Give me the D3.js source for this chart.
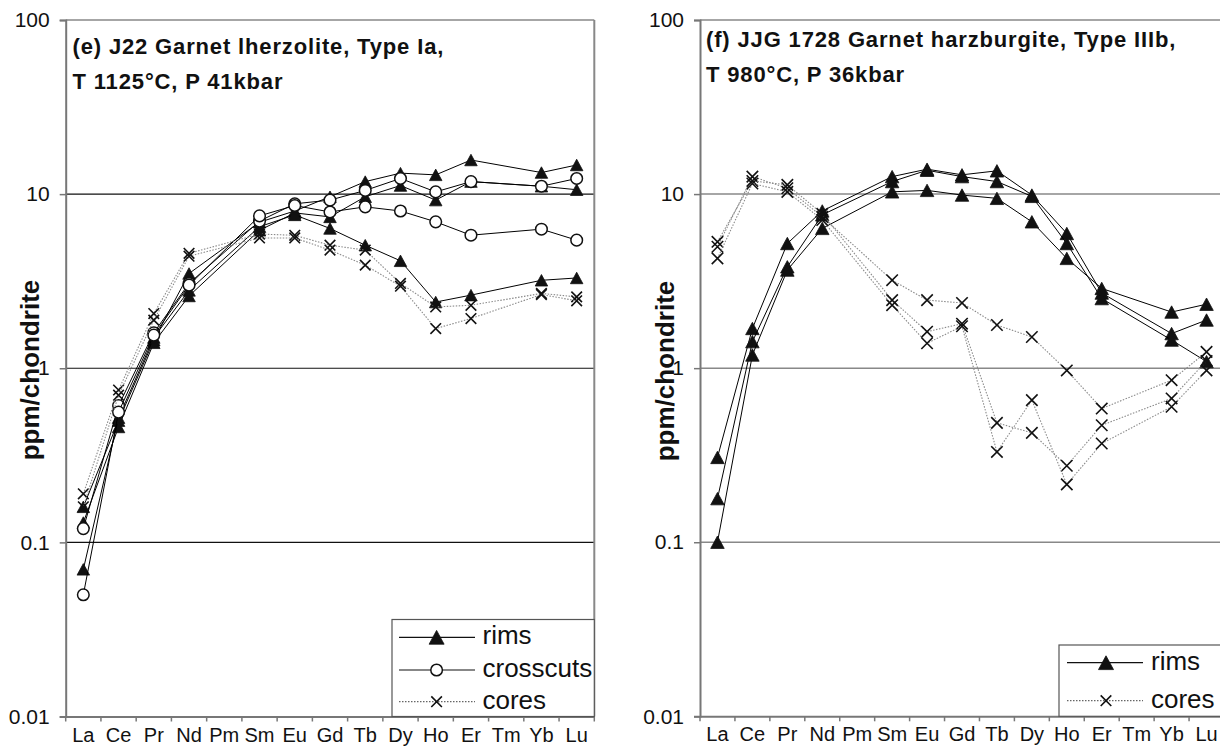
<!DOCTYPE html>
<html>
<head>
<meta charset="utf-8">
<script src="https://cdn.jsdelivr.net/npm/d3@7"></script>
<style>
  html, body { margin: 0; padding: 0; background: #fff; }
  svg { display: block; font-family: "Liberation Sans", Arial, sans-serif; }
</style>
</head>
<body>
<svg id="chart" width="1220" height="747"></svg>
<script>
// ---------- data ----------
const categories = ["La","Ce","Pr","Nd","Pm","Sm","Eu","Gd","Tb","Dy","Ho","Er","Tm","Yb","Lu"];
const yTickValues = [0.01, 0.1, 1, 10, 100];
const yTickLabels = ["0.01", "0.1", "1", "10", "100"];
const yTitle = "ppm/chondrite";

// panel (e) J22
const eTitle = ["(e) J22 Garnet lherzolite, Type Ia,", "T 1125°C, P 41kbar"];
const eRims = [
  [0.16, 0.50, 1.45, 3.5, null, 6.9, 8.0, 9.66, 11.8, 13.2, 12.9, 15.7, null, 13.3, 14.7],
  [0.13, 0.46, 1.40, 2.6, null, 6.2, 7.8, 7.4, 9.66, 11.2, 9.24, 11.8, null, 11.1, 10.6],
  [0.07, 0.52, 1.50, 2.8, null, 6.5, 7.6, 6.35, 5.09, 4.14, 2.40, 2.63, null, 3.2, 3.3]
];
const eCrosscuts = [
  [0.12, 0.61, 1.60, 3.07, null, 7.0, 8.8, 9.24, 10.5, 12.3, 10.3, 11.8, null, 11.1, 12.3],
  [0.05, 0.56, 1.55, 3.0, null, 7.5, 8.6, 7.9, 8.45, 8.0, 6.93, 5.81, null, 6.29, 5.44]
];
const eCores = [
  [0.19, 0.75, 2.06, 4.57, null, 5.9, 5.8, 5.09, 4.77, 3.07, 2.25, 2.30, null, 2.69, 2.57],
  [0.16, 0.70, 1.89, 4.4, null, 5.6, 5.6, 4.77, 3.91, 2.96, 1.69, 1.93, null, 2.65, 2.44]
];

// panel (f) JJG 1728
const fTitle = ["(f) JJG 1728 Garnet harzburgite, Type IIIb,", "T 980°C, P 36kbar"];
const fRims = [
  [0.307, 1.69, 5.2, 8.0, null, 12.6, 13.9, 12.9, 13.6, 9.87, 5.94, 2.7, null, 1.58, 1.89],
  [0.178, 1.42, 3.82, 7.6, null, 11.8, 13.7, 12.6, 11.8, 9.7, 5.2, 2.51, null, 1.45, 1.09],
  [0.10, 1.19, 3.66, 6.35, null, 10.3, 10.5, 9.87, 9.45, 6.93, 4.27, 2.87, null, 2.1, 2.33]
];
const fCores = [
  [4.98, 12.6, 10.8, 7.4, null, 3.2, 2.46, 2.37, 1.77, 1.51, 0.97, 0.586, null, 0.853, 1.24],
  [5.32, 11.9, 11.3, 7.7, null, 2.46, 1.62, 1.80, 0.485, 0.425, 0.275, 0.47, null, 0.67, 1.10],
  [4.27, 11.5, 10.3, 7.1, null, 2.30, 1.39, 1.74, 0.33, 0.655, 0.215, 0.369, null, 0.60, 0.97]
];

const legendNames = { rims: "rims", crosscuts: "crosscuts", cores: "cores" };

// ---------- drawing ----------
const FONT = '"Liberation Sans", Arial, sans-serif';
const svg = d3.select("#chart");

const styles = {
  rims: { stroke: "#000", width: 1, dash: null },
  crosscuts: { stroke: "#000", width: 1, dash: null },
  cores: { stroke: "#8a8a8a", width: 1.1, dash: "1.5,1.5" }
};

function drawMarker(g, kind, x, y, s) {
  s = s || 1;
  if (kind === "rims") {
    const w = 12.5 * s, h = 11.5 * s;
    g.append("path")
      .attr("d", `M${x},${y - h / 2}L${x + w / 2},${y + h / 2}L${x - w / 2},${y + h / 2}Z`)
      .attr("fill", "#111").attr("stroke", "#111").attr("stroke-width", 0.8);
  } else if (kind === "crosscuts") {
    g.append("circle").attr("cx", x).attr("cy", y).attr("r", 5.8 * s)
      .attr("fill", "#fff").attr("stroke", "#111").attr("stroke-width", 1.5);
  } else {
    const r = 5.3 * s;
    g.append("path")
      .attr("d", `M${x - r},${y - r}L${x + r},${y + r}M${x - r},${y + r}L${x + r},${y - r}`)
      .attr("stroke", "#111").attr("stroke-width", 1.6).attr("fill", "none");
  }
}

function drawPanel(o) {
  const x = d3.scaleBand().domain(categories).range([o.x0, o.x1]).padding(0);
  const y = d3.scaleLog().domain([0.01, 100]).range([o.yBottom, o.yTop]);
  const g = svg.append("g");

  // gridlines
  g.selectAll(".grid").data([0.1, 1, 10]).enter().append("line")
    .attr("x1", o.x0).attr("x2", o.x1)
    .attr("y1", d => y(d)).attr("y2", d => y(d))
    .attr("stroke", o.gridColor).attr("stroke-width", o.gridWidth);

  // top and right border
  g.append("line").attr("x1", o.x0).attr("x2", o.x1).attr("y1", o.yTop).attr("y2", o.yTop)
    .attr("stroke", "#888").attr("stroke-width", 1.5);
  g.append("line").attr("x1", o.x1).attr("x2", o.x1).attr("y1", o.yTop).attr("y2", o.yBottom)
    .attr("stroke", "#888").attr("stroke-width", 2);

  // y axis
  const yAxis = d3.axisLeft(y).tickValues(yTickValues)
    .tickFormat((d, i) => yTickLabels[i]).tickSize(6).tickPadding(10);
  const ya = g.append("g").attr("transform", `translate(${o.x0},0)`).call(yAxis);
  ya.attr("font-family", FONT);
  ya.select(".domain").attr("stroke", "#777").attr("stroke-width", 2);
  ya.selectAll(".tick line").attr("stroke", "#777").attr("stroke-width", 1.5);
  ya.selectAll(".tick text").attr("font-size", 21).attr("fill", "#111");

  // x axis
  const xAxis = d3.axisBottom(x).tickSize(0).tickPadding(11);
  const xa = g.append("g").attr("transform", `translate(0,${o.yBottom})`).call(xAxis);
  xa.attr("font-family", FONT);
  xa.select(".domain").attr("stroke", "#777").attr("stroke-width", 2);
  xa.selectAll(".tick text").attr("font-size", 20).attr("fill", "#111");
  // boundary ticks
  const bounds = categories.map(c => x(c)).concat([o.x1]);
  xa.selectAll(".bt").data(bounds).enter().append("line")
    .attr("x1", d => d).attr("x2", d => d).attr("y1", 0).attr("y2", 5)
    .attr("stroke", "#777").attr("stroke-width", 1.5);

  // y title
  g.append("text")
    .attr("transform", `translate(${o.yTitleX},${o.yTitleY}) rotate(-90)`)
    .attr("text-anchor", "middle").attr("font-weight", "bold").attr("font-size", 26)
    .attr("font-family", FONT).attr("fill", "#111").text(yTitle);

  // panel title
  o.title.forEach((t, i) => {
    g.append("text").attr("x", o.titleX).attr("y", o.titleY[i])
      .attr("font-weight", "bold").attr("font-size", 22).attr("letter-spacing", 0.85)
      .attr("font-family", FONT).attr("fill", "#111").text(t);
  });

  // series
  const line = d3.line().x(d => x(d.c) + x.bandwidth() / 2).y(d => y(d.v));
  o.series.forEach(s => {
    s.data.forEach(arr => {
      const pts = arr.map((v, i) => ({ c: categories[i], v })).filter(d => d.v != null);
      const st = styles[s.kind];
      g.append("path").datum(pts).attr("d", line).attr("fill", "none")
        .attr("stroke", st.stroke).attr("stroke-width", st.width)
        .attr("stroke-dasharray", st.dash);
      const mg = g.append("g");
      pts.forEach(d => drawMarker(mg, s.kind, x(d.c) + x.bandwidth() / 2, y(d.v), o.markerScale));
    });
  });

  // legend
  const L = o.legend;
  g.append("rect").attr("x", L.x).attr("y", L.y).attr("width", L.w).attr("height", o.yBottom - L.y)
    .attr("fill", "#fff").attr("stroke", "#555").attr("stroke-width", 1.2);
  L.items.forEach((k, i) => {
    const ry = L.rows[i];
    const st = styles[k];
    g.append("line").attr("x1", L.lx0).attr("x2", L.lx1).attr("y1", ry).attr("y2", ry)
      .attr("stroke", k === "cores" ? "#666" : "#111").attr("stroke-width", 1.2)
      .attr("stroke-dasharray", st.dash);
    drawMarker(g, k, L.mx, ry, k === "rims" ? 1.2 : 1.0);
    g.append("text").attr("x", L.tx).attr("y", ry + 7).attr("font-size", 26)
      .attr("font-family", FONT).attr("fill", "#111").text(legendNames[k]);
  });
}

drawPanel({
  x0: 65.7, x1: 594.3, yTop: 20, yBottom: 716.5,
  gridColor: "#111", gridWidth: 1.1,
  title: eTitle, titleX: 72.5, titleY: [53.5, 89],
  yTitleX: 39, yTitleY: 370,
  markerScale: 1,
  series: [
    { kind: "rims", data: eRims },
    { kind: "crosscuts", data: eCrosscuts },
    { kind: "cores", data: eCores }
  ],
  legend: {
    x: 392, y: 619.5, w: 202.3,
    items: ["rims", "crosscuts", "cores"], rows: [637.3, 670, 701.7],
    lx0: 399, lx1: 475, mx: 436.6, tx: 482.5
  }
});

drawPanel({
  x0: 700, x1: 1224, yTop: 20, yBottom: 716.3,
  gridColor: "#888", gridWidth: 1.5,
  title: fTitle, titleX: 706, titleY: [47, 82],
  yTitleX: 674, yTitleY: 371,
  markerScale: 1.08,
  series: [
    { kind: "rims", data: fRims },
    { kind: "cores", data: fCores }
  ],
  legend: {
    x: 1059, y: 645, w: 170,
    items: ["rims", "cores"], rows: [662.7, 700.7],
    lx0: 1067, lx1: 1143, mx: 1106, tx: 1151
  }
});
</script>
</body>
</html>
